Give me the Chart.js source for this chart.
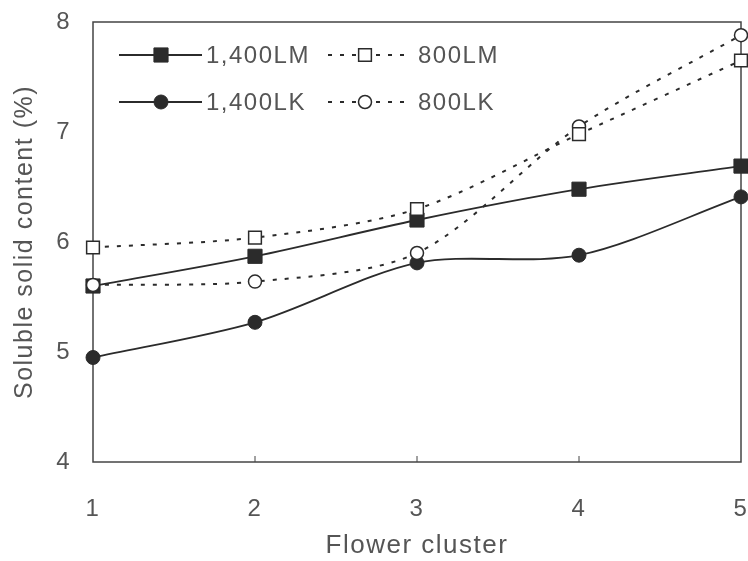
<!DOCTYPE html>
<html lang="en">
<head>
<meta charset="UTF-8">
<title>Soluble solid content by flower cluster</title>
<script src="https://cdn.jsdelivr.net/npm/chart.js@4"></script>
<style>
  body { margin: 0; background: #fff; }
  #wrap { width: 748px; height: 561px; }
</style>
</head>
<body>
<div id="wrap"><canvas id="sscChart"></canvas></div>
<script>
const clusters = [1, 2, 3, 4, 5];
const lm1400 = [5.60, 5.87, 6.20, 6.48, 6.69];
const lk1400 = [4.95, 5.27, 5.81, 5.88, 6.41];
const lm800 = [5.95, 6.04, 6.30, 6.98, 7.65];
const lk800 = [5.61, 5.64, 5.90, 7.05, 7.88];
const seriesNames = ['1,400LM', '1,400LK', '800LM', '800LK'];
const yTickValues = [4, 5, 6, 7, 8];

const INK = '#2b2b2b';
const TEXT = '#555';
const FONT = '"Liberation Sans", Arial, sans-serif';

function pts(values) {
    return clusters.map((c, i) => ({ x: c, y: values[i] }));
}

// legend slots: dataset index, line start/end, marker x, text x, row y
const legendSlots = [
    { ds: 2, x0: 119, x1: 202, mx: 161, tx: 206, y: 55 },
    { ds: 3, x0: 119, x1: 202, mx: 161, tx: 206, y: 102 },
    { ds: 0, x0: 328, x1: 412, mx: 365, tx: 418, y: 55 },
    { ds: 1, x0: 328, x1: 412, mx: 365, tx: 418, y: 102 }
];

// axes decide their own size; the frame sits where the layout padding puts it
function noOverhang(scale) {
    scale.paddingTop = 0;
    scale.paddingBottom = 0;
    scale.paddingLeft = 0;
    scale.paddingRight = 0;
}

const framePlugin = {
    id: 'frame',
    beforeLayout(chart) { chart.ctx.letterSpacing = '1.5px'; },
    beforeDraw(chart) { chart.ctx.letterSpacing = '1.5px'; },
    beforeDatasetsDraw(chart) {
        const { ctx, chartArea: a, scales } = chart;
        ctx.save();
        ctx.strokeStyle = '#444';
        ctx.lineWidth = 1.5;
        ctx.strokeRect(a.left, a.top, a.right - a.left, a.bottom - a.top);
        // small inward ticks on the bottom edge
        ctx.lineWidth = 1;
        clusters.slice(1, -1).forEach(c => {
            const px = scales.x.getPixelForValue(c);
            ctx.beginPath();
            ctx.moveTo(px, a.bottom);
            ctx.lineTo(px, a.bottom - 6);
            ctx.stroke();
        });
        ctx.restore();
    },
    afterDatasetsDraw(chart) {
        const ctx = chart.ctx;
        ctx.save();
        legendSlots.forEach(s => {
            const ds = chart.data.datasets[s.ds];
            ctx.strokeStyle = ds.borderColor;
            ctx.lineWidth = ds.borderWidth;
            ctx.setLineDash(ds.borderDash || []);
            ctx.beginPath();
            ctx.moveTo(s.x0, s.y);
            ctx.lineTo(s.x1, s.y);
            ctx.stroke();
            ctx.setLineDash([]);
            ctx.fillStyle = ds.pointBackgroundColor;
            ctx.strokeStyle = ds.pointBorderColor;
            ctx.lineWidth = ds.pointBorderWidth;
            Chart.helpers.drawPoint(ctx, {
                pointStyle: ds.pointStyle,
                radius: ds.pointRadius,
                borderWidth: ds.pointBorderWidth
            }, s.mx, s.y);
            ctx.fillStyle = TEXT;
            ctx.font = '24px ' + FONT;
            ctx.textBaseline = 'middle';
            ctx.textAlign = 'left';
            ctx.fillText(ds.label, s.tx, s.y + 1);
        });
        ctx.restore();
    }
};

function openSeries(label, values, style, radius) {
    return {
        label, data: pts(values),
        borderColor: INK, borderWidth: 2, borderDash: [4, 8],
        pointStyle: style, pointRadius: radius, pointHoverRadius: radius,
        pointBackgroundColor: '#fff', pointBorderColor: INK, pointBorderWidth: 1.5,
        tension: 0.3, clip: false
    };
}

function filledSeries(label, values, style, radius) {
    return {
        label, data: pts(values),
        borderColor: INK, borderWidth: 1.8,
        pointStyle: style, pointRadius: radius, pointHoverRadius: radius,
        pointBackgroundColor: INK, pointBorderColor: INK, pointBorderWidth: 1,
        tension: 0.3, clip: false
    };
}

const ctx = document.getElementById('sscChart').getContext('2d');
const chart = new Chart(ctx, {
    type: 'line',
    data: {
        // open markers first so they sit on top of the filled ones
        datasets: [
            openSeries(seriesNames[2], lm800, 'rect', 9),
            openSeries(seriesNames[3], lk800, 'circle', 6.5),
            filledSeries(seriesNames[0], lm1400, 'rect', 10),
            filledSeries(seriesNames[1], lk1400, 'circle', 7)
        ]
    },
    options: {
        responsive: true,
        maintainAspectRatio: false,
        animation: false,
        layout: { autoPadding: false, padding: { top: 22, right: 7, bottom: 0, left: 0 } },
        plugins: { legend: { display: false }, tooltip: { enabled: false } },
        scales: {
            x: {
                type: 'linear',
                min: 1, max: 5,
                grid: { display: false, drawTicks: false },
                border: { display: false },
                ticks: {
                    stepSize: 1, padding: 33, color: TEXT,
                    font: { family: FONT, size: 24 }
                },
                title: {
                    display: true, text: 'Flower cluster', color: TEXT,
                    font: { family: FONT, size: 26 }, padding: { top: 0, bottom: 0 }
                },
                afterFit(scale) {
                    noOverhang(scale);
                    scale.height = 99;
                }
            },
            y: {
                min: 4, max: 8,
                grid: { display: false, drawTicks: false },
                border: { display: false },
                afterBuildTicks(scale) {
                    scale.ticks = yTickValues.map(v => ({ value: v }));
                },
                ticks: {
                    padding: 22, color: TEXT,
                    font: { family: FONT, size: 24 }
                },
                title: {
                    display: true, text: 'Soluble solid content (%)', color: TEXT,
                    font: { family: FONT, size: 25 }, padding: { top: 10, bottom: 0 }
                },
                afterFit(scale) {
                    noOverhang(scale);
                    scale.width = 93;
                }
            }
        }
    },
    plugins: [framePlugin]
});
</script>
</body>
</html>
